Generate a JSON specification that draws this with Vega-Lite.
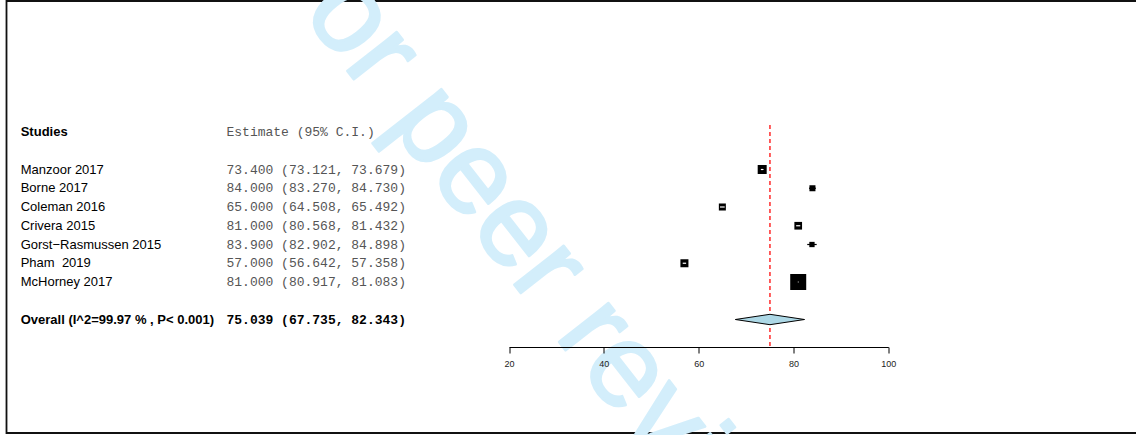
{
  "$schema": "https://vega.github.io/schema/vega-lite/v6.json",
  "width": 1131,
  "height": 432,
  "autosize": {"type": "none"},
  "padding": {"left": 6.5, "top": 1, "right": -1.5, "bottom": 2},
  "background": "white",
  "config": {"view": {"stroke": "#111111", "strokeWidth": 1.8}},
  "datasets": {
    "studies": [
      {"study": "Manzoor 2017", "row": 2, "est": 73.4, "lo": 73.121, "hi": 73.679, "weight": 14.1, "ci": "73.400 (73.121, 73.679)"},
      {"study": "Borne 2017", "row": 3, "est": 84.0, "lo": 83.27, "hi": 84.73, "weight": 6.3, "ci": "84.000 (83.270, 84.730)"},
      {"study": "Coleman 2016", "row": 4, "est": 65.0, "lo": 64.508, "hi": 65.492, "weight": 8.6, "ci": "65.000 (64.508, 65.492)"},
      {"study": "Crivera 2015", "row": 5, "est": 81.0, "lo": 80.568, "hi": 81.432, "weight": 10.3, "ci": "81.000 (80.568, 81.432)"},
      {"study": "Gorst\u2212Rasmussen 2015", "row": 6, "est": 83.9, "lo": 82.902, "hi": 84.898, "weight": 4.9, "ci": "83.900 (82.902, 84.898)"},
      {"study": "Pham\u00a0 2019", "row": 7, "est": 57.0, "lo": 56.642, "hi": 57.358, "weight": 11.2, "ci": "57.000 (56.642, 57.358)"},
      {"study": "McHorney 2017", "row": 8, "est": 81.0, "lo": 80.917, "hi": 81.083, "weight": 44.7, "ci": "81.000 (80.917, 81.083)"}
    ],
    "overall": [
      {"label": "Overall (I^2=99.97 % , P< 0.001)", "row": 10, "est": 75.039, "lo": 67.735, "hi": 82.343, "ci": "75.039 (67.735, 82.343)"}
    ],
    "header": [
      {"row": 0, "study": "Studies", "ci": "\u00a0\u00a0\u00a0Estimate (95% C.I.)"}
    ],
    "watermark": [
      {"text": "For peer review"}
    ]
  },
  "resolve": {"scale": {"x": "independent"}, "axis": {"x": "independent"}},
  "layer": [
    {
      "layer": [
        {
          "data": {"name": "watermark"},
          "mark": {"type": "text", "align": "left", "baseline": "alphabetic", "angle": 52, "fontSize": 119, "font": "Liberation Sans", "fill": "#d3eefb", "stroke": "#d3eefb", "strokeWidth": 2.5, "strokeJoin": "round"},
          "encoding": {
            "x": {"datum": -33.2, "type": "quantitative", "scale": {"domain": [20, 100], "range": [502.5, 881.8], "nice": false, "zero": false},
              "axis": {"values": [20, 40, 60, 80, 100], "format": "d", "title": null, "grid": false, "offset": -86, "zindex": 1, "domainColor": "#000000", "domainWidth": 1, "tickColor": "#000000", "tickSize": 6, "tickWidth": 1, "labelFont": "Liberation Sans", "labelFontSize": 9, "labelColor": "#222222", "labelPadding": 6, "labelFlush": false, "labelOverlap": false}},
            "y": {"datum": -9.44, "type": "quantitative", "scale": {"domain": [0, 10], "range": [131, 318.5], "nice": false, "zero": false}, "axis": null},
            "text": {"field": "text", "type": "nominal"}
          }
        },
        {
          "data": {"name": "overall"},
          "mark": {"type": "rule", "color": "#ff2a2a", "strokeWidth": 1.5, "strokeDash": [4, 3]},
          "encoding": {
            "x": {"field": "est", "type": "quantitative"},
            "y": {"datum": -0.37, "type": "quantitative", "axis": null},
            "y2": {"datum": 11.47}
          }
        },
        {
          "data": {"name": "studies"},
          "mark": {"type": "rule", "color": "#000000", "strokeWidth": 1.2},
          "encoding": {
            "x": {"field": "lo", "type": "quantitative"},
            "x2": {"field": "hi"},
            "y": {"field": "row", "type": "quantitative", "axis": null}
          }
        },
        {
          "data": {"name": "studies"},
          "mark": {"type": "point", "shape": "square", "filled": true, "color": "#000000", "opacity": 1},
          "encoding": {
            "x": {"field": "est", "type": "quantitative"},
            "y": {"field": "row", "type": "quantitative", "axis": null},
            "size": {"field": "weight", "type": "quantitative", "scale": {"domain": [0, 100], "range": [0, 573]}, "legend": null}
          }
        },
        {
          "data": {"name": "studies"},
          "transform": [{"filter": "datum.hi - datum.lo < 1.2"}],
          "mark": {"type": "rule", "color": "#ffffff", "strokeWidth": 1.2},
          "encoding": {
            "x": {"field": "lo", "type": "quantitative"},
            "x2": {"field": "hi"},
            "y": {"field": "row", "type": "quantitative", "axis": null}
          }
        },
        {
          "data": {"name": "overall"},
          "mark": {"type": "point", "shape": "M-1,0L0,-0.15L1,0L0,0.15Z", "filled": true, "fill": "#add8e6", "stroke": "#000000", "strokeWidth": 1, "opacity": 1, "size": 4789},
          "encoding": {
            "x": {"field": "est", "type": "quantitative"},
            "y": {"field": "row", "type": "quantitative", "axis": null}
          }
        }
      ]
    },
    {
      "layer": [
        {
          "data": {"name": "header"},
          "mark": {"type": "text", "align": "left", "baseline": "middle", "font": "Liberation Sans", "fontSize": 13, "fontWeight": "bold", "fill": "#000000"},
          "encoding": {
            "x": {"datum": "study", "type": "nominal", "scale": {"type": "point", "domain": ["study", "ci"], "range": [14.2, 220], "padding": 0}, "axis": null},
            "y": {"field": "row", "type": "quantitative", "axis": null},
            "text": {"field": "study", "type": "nominal"}
          }
        },
        {
          "data": {"name": "header"},
          "mark": {"type": "text", "align": "left", "baseline": "middle", "font": "Liberation Mono", "fontSize": 13, "fill": "#555555"},
          "encoding": {
            "x": {"datum": "ci", "type": "nominal"},
            "y": {"field": "row", "type": "quantitative", "axis": null},
            "text": {"field": "ci", "type": "nominal"}
          }
        },
        {
          "data": {"name": "studies"},
          "mark": {"type": "text", "align": "left", "baseline": "middle", "font": "Liberation Sans", "fontSize": 13, "fill": "#000000"},
          "encoding": {
            "x": {"datum": "study", "type": "nominal"},
            "y": {"field": "row", "type": "quantitative", "axis": null},
            "text": {"field": "study", "type": "nominal"}
          }
        },
        {
          "data": {"name": "studies"},
          "mark": {"type": "text", "align": "left", "baseline": "middle", "font": "Liberation Mono", "fontSize": 13, "fill": "#555555"},
          "encoding": {
            "x": {"datum": "ci", "type": "nominal"},
            "y": {"field": "row", "type": "quantitative", "axis": null},
            "text": {"field": "ci", "type": "nominal"}
          }
        },
        {
          "data": {"name": "overall"},
          "mark": {"type": "text", "align": "left", "baseline": "middle", "font": "Liberation Sans", "fontSize": 13, "fontWeight": "bold", "fill": "#000000"},
          "encoding": {
            "x": {"datum": "study", "type": "nominal"},
            "y": {"field": "row", "type": "quantitative", "axis": null},
            "text": {"field": "label", "type": "nominal"}
          }
        },
        {
          "data": {"name": "overall"},
          "mark": {"type": "text", "align": "left", "baseline": "middle", "font": "Liberation Mono", "fontSize": 13, "fontWeight": "bold", "fill": "#000000"},
          "encoding": {
            "x": {"datum": "ci", "type": "nominal"},
            "y": {"field": "row", "type": "quantitative", "axis": null},
            "text": {"field": "ci", "type": "nominal"}
          }
        }
      ]
    }
  ]
}
